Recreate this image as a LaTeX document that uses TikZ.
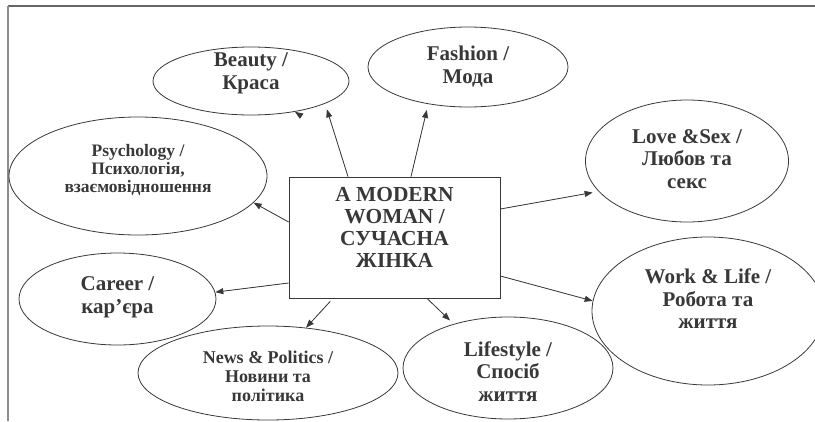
\documentclass[tikz,border=0pt]{standalone}
\usepackage{fontspec}
\setmainfont{Liberation Serif}
\usepackage{xcolor}
\definecolor{inkgray}{rgb}{0.22,0.22,0.22}
\definecolor{framegray}{rgb}{0.40,0.40,0.40}
\definecolor{sidegray}{rgb}{0.55,0.55,0.55}
\usetikzlibrary{arrows.meta,positioning,shapes.geometric}
\tikzset{
  >={Triangle[length=8pt,width=6pt]},
  topic/.style={ellipse,draw=inkgray,line width=0.8pt,inner sep=0pt},
  topictext/.style={align=center,inner sep=0pt,text=inkgray,font=\bfseries\fontsize{21}{22.5}\selectfont},
  smalltext/.style={topictext,font=\bfseries\fontsize{17.5}{18}\selectfont},
  hub/.style={rectangle,draw=inkgray,line width=0.8pt,minimum width=211pt,minimum height=121pt},
  hubtext/.style={topictext,font=\bfseries\fontsize{21.4}{22}\selectfont},
  link/.style={->,line width=0.8pt,draw=inkgray,fill=inkgray}
}

\begin{document}
\begin{tikzpicture}[x=1pt,y=-1pt]
  \useasboundingbox (0,0) rectangle (815,421);
  % Frame
  \draw[framegray,line width=1.6pt] (8,6) -- (815,6);
  \draw[sidegray,line width=1.6pt] (8,6) -- (8,421);

  % Topics
  \node[topic,minimum width=196pt,minimum height=68pt] (beauty) at (251,81) {};
  \node[topictext] (beautytext) at ([yshift=7.5pt]beauty.center) {Beauty /\\Краса};
  \node[topic,minimum width=200pt,minimum height=80pt] (fashion) at (468,67) {};
  \node[topictext] (fashiontext) at ([yshift=0.5pt]fashion.center) {Fashion /\\Мода};
  \node[topic,minimum width=258pt,minimum height=118pt] (psych) at (138,176) {};
  \node[smalltext] (psychtext) at ([yshift=6.5pt]psych.center) {Psychology /\\Психологія,\\взаємовідношення};
  \node[topic,minimum width=203pt,minimum height=122pt] (love) at (687,161) {};
  \node[topictext] (lovetext) at ([yshift=2pt]love.center) {Love \&Sex /\\Любов та\\секс};
  \node[topic,minimum width=197pt,minimum height=92pt] (career) at (117.5,299) {};
  \node[topictext] (careertext) at ([yshift=1.5pt]career.center) {Career /\\кар’єра};
  \node[topic,minimum width=232pt,minimum height=148pt] (work) at (708,311) {};
  \node[topictext] (worktext) at ([yshift=12pt]work.center) {Work \& Life /\\Робота та\\життя};
  \node[topic,minimum width=260pt,minimum height=94pt] (news) at (268,373) {};
  \node[smalltext,font=\bfseries\fontsize{18}{19}\selectfont] (newstext) at ([yshift=-3pt]news.center) {News \& Politics /\\Новини та\\політика};
  \node[topic,minimum width=210pt,minimum height=102pt] (life) at (508,368) {};
  \node[topictext] (lifetext) at ([yshift=-3.5pt]life.center) {Lifestyle /\\Спосіб\\життя};

  % Centre
  \node[hub] (woman) at (394.5,237.5) {};
  \node[hubtext,below=11pt of woman.north] (wtitle) {A MODERN\\WOMAN /\\СУЧАСНА\\ЖІНКА};

  % Arrows
  \draw[link,shorten >=6pt] ([xshift=-46.5pt]woman.north) -- (beauty.-17.5);
  \draw[link] ([shift={(1.5pt,-1pt)}]beauty.-35) -- (beauty.-35);
  \draw[link,shorten >=6pt] ([xshift=16.5pt]woman.north) -- (fashion.-137);
  \draw[link] ([yshift=15.5pt]woman.west) -- (psych.-13.2);
  \draw[link] ([yshift=-45.5pt]woman.west) -- (career.4);
  \draw[link,shorten >=6pt] ([yshift=28.5pt]woman.east) -- (love.-161.6);
  \draw[link] ([yshift=-38.5pt]woman.east) -- (work.175.5);
  \draw[link,shorten <=4pt] ([xshift=-61.5pt]woman.south) -- (news.50.6);
  \draw[link,shorten >=5pt] ([xshift=32.5pt]woman.south) -- (life.141.8);
\end{tikzpicture}
\end{document}
